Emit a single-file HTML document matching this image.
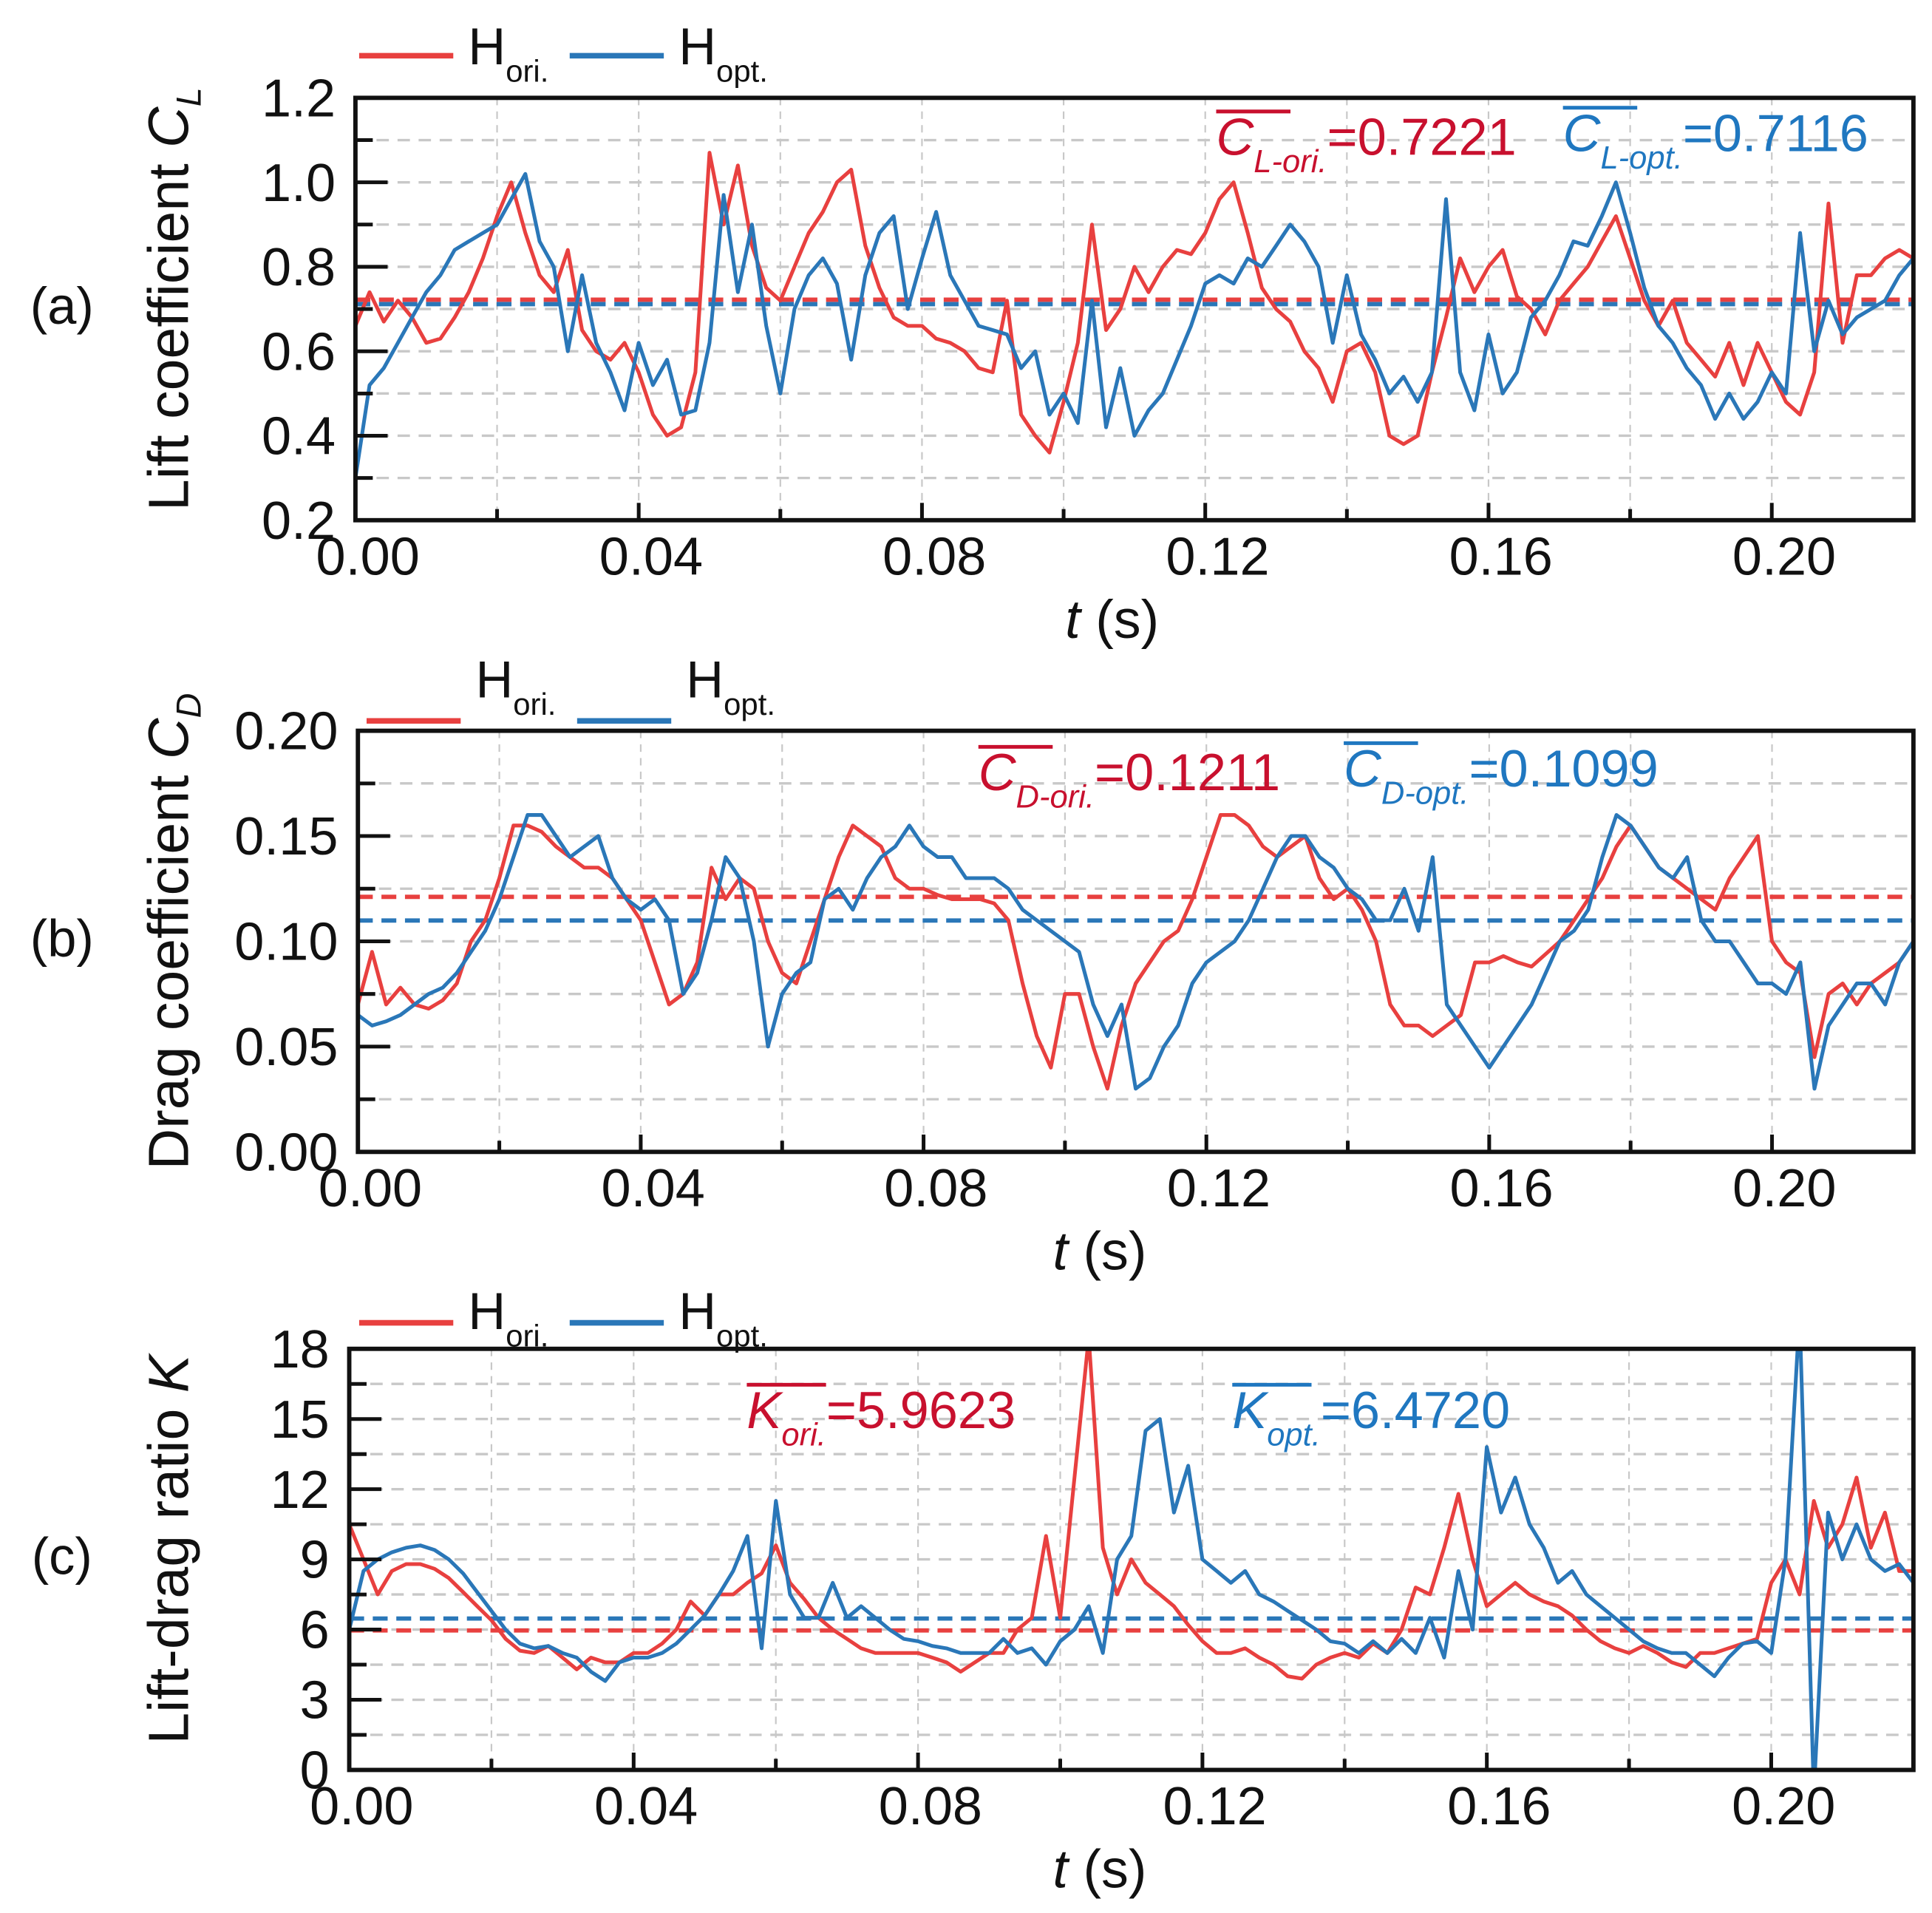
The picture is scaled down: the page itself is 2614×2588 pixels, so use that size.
<!DOCTYPE html>
<html><head><meta charset="utf-8"><style>
html,body{margin:0;padding:0;background:#fff}
svg{display:block}
text{font-family:"Liberation Sans",Arial,sans-serif}
</style></head><body>
<svg id="fig" width="2614" height="2588" viewBox="0 0 1560 1544.5" preserveAspectRatio="none" xmlns="http://www.w3.org/2000/svg">
<defs>
<clipPath id="clipA"><rect x="287" y="79" width="1258" height="341"/></clipPath>
<clipPath id="clipB"><rect x="289" y="590" width="1256" height="340"/></clipPath>
<clipPath id="clipC"><rect x="282" y="1089" width="1263" height="340"/></clipPath>
</defs>
<g id="panels"></g>
</svg>
<script>
const timeTicks = ["0.00","0.04","0.08","0.12","0.16","0.20"];
const timeTickValues = [0,0.04,0.08,0.12,0.16,0.20];
const clTicks = [0.2,0.4,0.6,0.8,1.0,1.2];
const cdTicks = [0.00,0.05,0.10,0.15,0.20];
const kTicks = [0,3,6,9,12,15,18];
const tStep = 0.002;
const clOri = [0.66,0.74,0.67,0.72,0.68,0.62,0.63,0.68,0.74,0.82,
0.92,1.00,0.88,0.78,0.74,0.84,0.65,0.60,0.58,0.62,
0.55,0.45,0.40,0.42,0.55,1.07,0.90,1.04,0.85,0.75,
0.72,0.80,0.88,0.93,1.00,1.03,0.85,0.75,0.68,0.66,
0.66,0.63,0.62,0.60,0.56,0.55,0.72,0.45,0.40,0.36,
0.48,0.62,0.90,0.65,0.70,0.80,0.74,0.80,0.84,0.83,
0.88,0.96,1.00,0.88,0.75,0.70,0.67,0.60,0.56,0.48,
0.60,0.62,0.55,0.40,0.38,0.40,0.55,0.68,0.82,0.74,
0.80,0.84,0.73,0.70,0.64,0.72,0.76,0.80,0.86,0.92,
0.82,0.72,0.66,0.72,0.62,0.58,0.54,0.62,0.52,0.62,
0.55,0.48,0.45,0.55,0.95,0.62,0.78,0.78,0.82,0.84,0.82];
const clOpt = [0.30,0.52,0.56,0.62,0.68,0.74,0.78,0.84,0.86,0.88,
0.90,0.96,1.02,0.86,0.80,0.60,0.78,0.62,0.55,0.46,
0.62,0.52,0.58,0.45,0.46,0.62,0.97,0.74,0.90,0.66,
0.50,0.70,0.78,0.82,0.76,0.58,0.78,0.88,0.92,0.70,
0.82,0.93,0.78,0.72,0.66,0.65,0.64,0.56,0.60,0.45,
0.50,0.43,0.72,0.42,0.56,0.40,0.46,0.50,0.58,0.66,
0.76,0.78,0.76,0.82,0.80,0.85,0.90,0.86,0.80,0.62,
0.78,0.64,0.58,0.50,0.54,0.48,0.55,0.96,0.55,0.46,
0.64,0.50,0.55,0.68,0.72,0.78,0.86,0.85,0.92,1.00,
0.88,0.75,0.66,0.62,0.56,0.52,0.44,0.50,0.44,0.48,
0.55,0.50,0.88,0.60,0.72,0.64,0.68,0.70,0.72,0.78,0.82];
const cdOri = [0.070,0.095,0.070,0.078,0.070,0.068,0.072,0.080,0.100,0.110,
0.130,0.155,0.155,0.152,0.145,0.140,0.135,0.135,0.130,0.120,
0.110,0.090,0.070,0.075,0.090,0.135,0.120,0.130,0.125,0.100,
0.085,0.080,0.100,0.120,0.140,0.155,0.150,0.145,0.130,0.125,
0.125,0.122,0.120,0.120,0.120,0.118,0.110,0.080,0.055,0.040,
0.075,0.075,0.050,0.030,0.060,0.080,0.090,0.100,0.105,0.120,
0.140,0.160,0.160,0.155,0.145,0.140,0.145,0.150,0.130,0.120,
0.125,0.115,0.100,0.070,0.060,0.060,0.055,0.060,0.065,0.090,
0.090,0.093,0.090,0.088,0.094,0.100,0.110,0.120,0.130,0.145,
0.155,0.145,0.135,0.130,0.125,0.120,0.115,0.130,0.140,0.150,
0.100,0.090,0.085,0.045,0.075,0.080,0.070,0.080,0.085,0.090,0.100];
const cdOpt = [0.065,0.060,0.062,0.065,0.070,0.075,0.078,0.085,0.095,0.105,
0.120,0.140,0.160,0.160,0.150,0.140,0.145,0.150,0.130,0.120,
0.115,0.120,0.110,0.075,0.085,0.110,0.140,0.130,0.100,0.050,
0.075,0.085,0.090,0.120,0.125,0.115,0.130,0.140,0.145,0.155,
0.145,0.140,0.140,0.130,0.130,0.130,0.125,0.115,0.110,0.105,
0.100,0.095,0.070,0.055,0.070,0.030,0.035,0.050,0.060,0.080,
0.090,0.095,0.100,0.110,0.125,0.140,0.150,0.150,0.140,0.135,
0.125,0.120,0.110,0.110,0.125,0.105,0.140,0.070,0.060,0.050,
0.040,0.050,0.060,0.070,0.085,0.100,0.105,0.115,0.140,0.160,
0.155,0.145,0.135,0.130,0.140,0.110,0.100,0.100,0.090,0.080,
0.080,0.075,0.090,0.030,0.060,0.070,0.080,0.080,0.070,0.090,0.100];
const kOri = [10.5,9.0,7.5,8.5,8.8,8.8,8.6,8.2,7.6,7.0,
6.4,5.6,5.1,5.0,5.3,4.8,4.3,4.8,4.6,4.6,
5.0,5.0,5.4,6.0,7.2,6.6,7.5,7.5,8.0,8.4,
9.6,8.0,7.3,6.5,6.0,5.6,5.2,5.0,5.0,5.0,
5.0,4.8,4.6,4.2,4.6,5.0,5.0,6.0,6.5,10.0,
6.5,12.5,18.5,9.5,7.5,9.0,8.0,7.5,7.0,6.2,
5.5,5.0,5.0,5.2,4.8,4.5,4.0,3.9,4.5,4.8,
5.0,4.8,5.4,5.0,6.0,7.8,7.5,9.5,11.8,9.0,
7.0,7.5,8.0,7.5,7.2,7.0,6.6,6.0,5.5,5.2,
5.0,5.3,5.0,4.6,4.4,5.0,5.0,5.2,5.4,5.6,
8.0,9.0,7.5,11.5,9.5,10.5,12.5,9.5,11.0,8.5,8.5];
const kOpt = [6.0,8.5,9.0,9.3,9.5,9.6,9.4,9.0,8.4,7.6,
6.8,6.0,5.4,5.2,5.3,5.0,4.8,4.2,3.8,4.6,
4.8,4.8,5.0,5.4,6.0,6.6,7.5,8.5,10.0,5.2,
11.5,7.5,6.5,6.5,8.0,6.5,7.0,6.5,6.0,5.6,
5.5,5.3,5.2,5.0,5.0,5.0,5.6,5.0,5.2,4.5,
5.5,6.0,7.0,5.0,9.0,10.0,14.5,15.0,11.0,13.0,
9.0,8.5,8.0,8.5,7.5,7.2,6.8,6.4,6.0,5.5,
5.4,5.0,5.5,5.0,5.6,5.0,6.5,4.8,8.5,6.0,
13.8,11.0,12.5,10.5,9.5,8.0,8.5,7.5,7.0,6.5,
6.0,5.5,5.2,5.0,5.0,4.5,4.0,4.8,5.4,5.5,
5.0,9.0,19.5,-1,11.0,9.0,10.5,9.0,8.5,8.8,8.0];
const meansCL = [0.7221,0.7116];
const meansCD = [0.1211,0.1099];
const meansK = [5.9623,6.4720];

const NS="http://www.w3.org/2000/svg";
const RED="#e8403f", BLUE="#2a77b8", RED_T="#c8102e", BLUE_T="#1f77c0";
const root=document.getElementById('panels');
function mk(tag,attrs,parent){const e=document.createElementNS(NS,tag);for(const k in attrs)e.setAttribute(k,attrs[k]);(parent||root).appendChild(e);return e;}

function panel(o){
  const g=mk('g',{});
  
  
  const xs=t=>o.x0+(t/0.22)*(o.x1-o.x0);
  const ys=v=>o.y1-(v-o.ymin)/(o.ymax-o.ymin)*(o.y1-o.y0);
  for(let t=0.02;t<0.219;t+=0.02){const l=mk('line',{x1:xs(t),x2:xs(t),y1:o.y0,y2:o.y1,stroke:'#c8c8c8','stroke-width':1.3,'stroke-dasharray':'6,5'},g);
    }
  for(let i=1;i<o.ticks.length*2-2;i++){const v=o.ymin+i*(o.ymax-o.ymin)/((o.ticks.length-1)*2);
    const l=mk('line',{x1:o.x0,x2:o.x1,y1:ys(v),y2:ys(v),stroke:'#c8c8c8','stroke-width':2,'stroke-dasharray':'10,7'},g);
    }
  const m1=mk('line',{x1:o.x0,x2:o.x1,y1:ys(o.means[0]),y2:ys(o.means[0]),stroke:RED,'stroke-width':3.5,'stroke-dasharray':'12,7'},g);
  
  const m2=mk('line',{x1:o.x0,x2:o.x1,y1:ys(o.means[1]),y2:ys(o.means[1]),stroke:BLUE,'stroke-width':3.5,'stroke-dasharray':'12,7'},g);
  
  [[o.ori,RED,'series-ori'],[o.opt,BLUE,'series-opt']].forEach(([arr,c,n])=>{
    const d=arr.map((v,i)=>(i?'L':'M')+xs(i*tStep).toFixed(1)+','+ys(v).toFixed(1)).join('');
    const p=mk('path',{d:d,fill:'none',stroke:c,'stroke-width':3,'stroke-linejoin':'round','clip-path':'url(#'+o.clip+')'},g);
    
  });
  const f=mk('rect',{x:o.x0,y:o.y0,width:o.x1-o.x0,height:o.y1-o.y0,fill:'none',stroke:'#111','stroke-width':3.5},g);
  
  for(let i=0;i<=11;i++){const t=i*0.02;const L=i%2===0?14:9;
    const l=mk('line',{x1:xs(t),x2:xs(t),y1:o.y1,y2:o.y1-L,stroke:'#111','stroke-width':3},g);
    }
  timeTickValues.forEach((t,i)=>{const tx=mk('text',{x:xs(t)+10,y:o.y1+44,'font-size':43,'text-anchor':'middle',fill:'#111'},g);tx.textContent=timeTicks[i];
    });
  const nMaj=o.ticks.length;
  for(let i=0;i<nMaj*2-1;i++){const v=o.ymin+i*(o.ymax-o.ymin)/((nMaj-1)*2);const L=i%2===0?26:14;
    const l=mk('line',{x1:o.x0,x2:o.x0+L,y1:ys(v),y2:ys(v),stroke:'#111','stroke-width':3},g);
    }
  o.ticks.forEach(v=>{const tx=mk('text',{x:o.x0-16,y:ys(v)+15,'font-size':43,'text-anchor':'end',fill:'#111'},g);tx.textContent=o.fmt(v);
    });
  const xt=mk('text',{x:o.xtx,y:o.y1+95,'font-size':44,'text-anchor':'middle',fill:'#111'},g);
  xt.innerHTML='<tspan font-style="italic">t</tspan> (s)';
  
  const yc=(o.y0+o.y1)/2;
  const yt=mk('text',{x:0,y:0,'font-size':46,'text-anchor':'middle',fill:'#111',transform:'translate(152,'+(yc-8)+') rotate(-90)'},g);
  yt.innerHTML=o.ytitle;
  
  const pl=mk('text',{x:50,y:yc+12,'font-size':42,'text-anchor':'middle',fill:'#111'},g);pl.textContent=o.label;
  
  const lg=mk('g',{},g);
  [[o.leg[0],RED,'ori.'],[o.leg[1],BLUE,'opt.']].forEach(([lx,c,s])=>{
    const ln=mk('line',{x1:lx,x2:lx+76,y1:o.legY,y2:o.legY,stroke:c,'stroke-width':4.5},lg);
    
    const tx=mk('text',{x:lx+88,y:o.legTextY,'font-size':42,fill:'#111'},lg);
    tx.innerHTML='H<tspan font-size="25" dy="14">'+s+'</tspan>';
    
  });
  o.ann.forEach(a=>{
    const tx=mk('text',{x:a.x,y:a.y,'font-size':42,fill:a.c},g);
    tx.innerHTML='<tspan font-style="italic">'+a.sym+'</tspan><tspan font-size="26" font-style="italic" dy="14">'+a.sub+'</tspan><tspan dy="-14">'+a.val+'</tspan>';
    
    const ol=mk('line',{x1:a.x,x2:a.x+a.ow,y1:a.y-35,y2:a.y-35,stroke:a.c,'stroke-width':3},g);
    
  });
}

panel({name:'panel-a-lift',x0:287,x1:1545,y0:79,y1:420,ymin:0.2,ymax:1.2,ticks:clTicks,fmt:v=>v.toFixed(1),
  ori:clOri,opt:clOpt,means:meansCL,clip:'clipA',xtx:898,label:'(a)',
  ytitle:'Lift coefficient <tspan font-style="italic">C</tspan><tspan font-style="italic" font-size="28" dy="10">L</tspan>',
  leg:[290,460],legY:45,legTextY:52,
  ann:[{x:982,y:125,c:RED_T,sym:'C',sub:'L-ori.',val:'=0.7221',ow:60},{x:1262,y:122,c:BLUE_T,sym:'C',sub:'L-opt.',val:'=0.7116',ow:60}]});
panel({name:'panel-b-drag',x0:289,x1:1545,y0:590,y1:930,ymin:0,ymax:0.2,ticks:cdTicks,fmt:v=>v.toFixed(2),
  ori:cdOri,opt:cdOpt,means:meansCD,clip:'clipB',xtx:888,label:'(b)',
  ytitle:'Drag coefficient <tspan font-style="italic">C</tspan><tspan font-style="italic" font-size="28" dy="10">D</tspan>',
  leg:[296,466],legY:582,legTextY:563,
  ann:[{x:790,y:638,c:RED_T,sym:'C',sub:'D-ori.',val:'=0.1211',ow:60},{x:1085,y:635,c:BLUE_T,sym:'C',sub:'D-opt.',val:'=0.1099',ow:60}]});
panel({name:'panel-c-ratio',x0:282,x1:1545,y0:1089,y1:1429,ymin:0,ymax:18,ticks:kTicks,fmt:v=>String(v),
  ori:kOri,opt:kOpt,means:meansK,clip:'clipC',xtx:888,label:'(c)',
  ytitle:'Lift-drag ratio <tspan font-style="italic">K</tspan>',
  leg:[290,460],legY:1068,legTextY:1073,
  ann:[{x:603,y:1153,c:RED_T,sym:'K',sub:'ori.',val:'=5.9623',ow:64},{x:995,y:1153,c:BLUE_T,sym:'K',sub:'opt.',val:'=6.4720',ow:64}]});
</script>
</body></html>
